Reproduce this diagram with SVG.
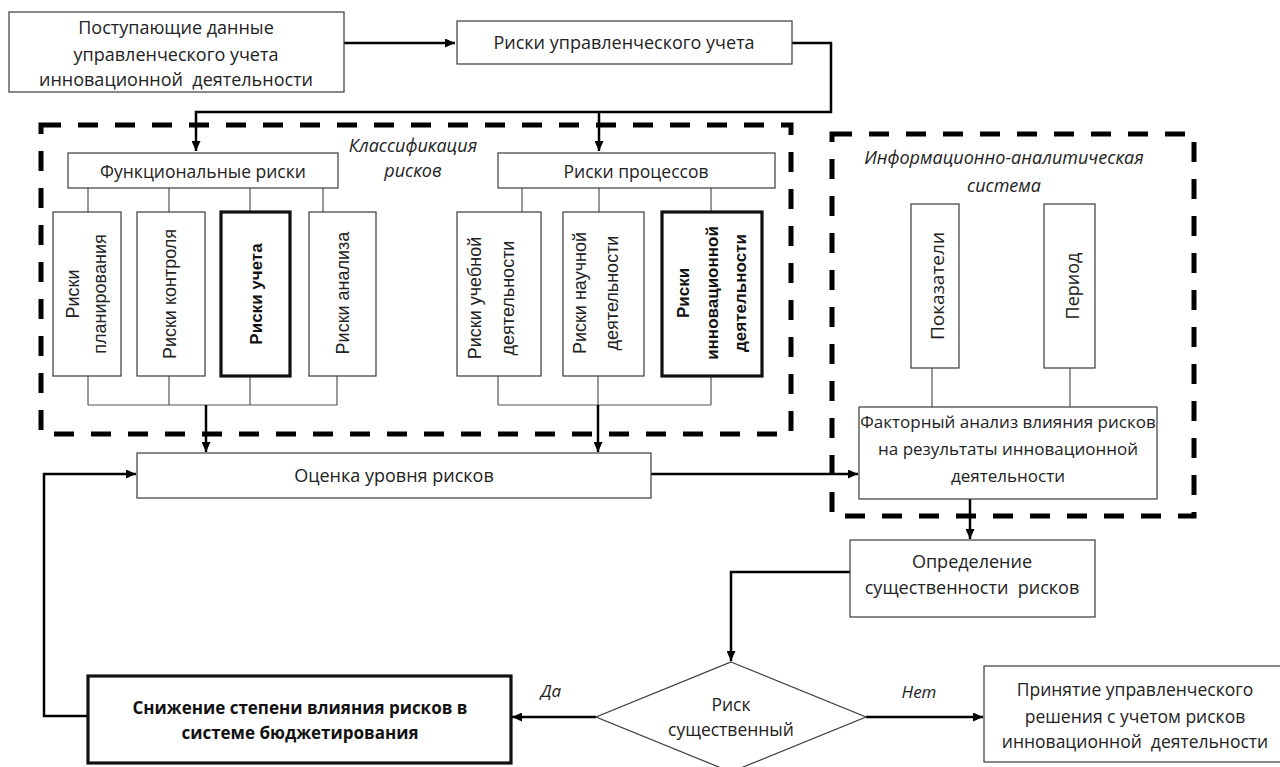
<svg xmlns="http://www.w3.org/2000/svg" width="1280" height="767" viewBox="0 0 1280 767">
<style>
.box{fill:#fff;stroke:#3a3a3a;stroke-width:1.2}
.bold{fill:#fff;stroke:#111;stroke-width:3.2}
.t{font-family:"Open Sans","Noto Sans",sans-serif;font-size:18px;fill:#222;text-anchor:middle;white-space:pre}
.tb{font-family:"Open Sans","Noto Sans",sans-serif;font-size:17px;fill:#111;font-weight:bold;text-anchor:middle}
.ti{font-family:"Open Sans","Noto Sans",sans-serif;font-size:18px;fill:#222;font-style:italic;text-anchor:middle}
.v{font-family:"Liberation Sans",Arial,sans-serif;font-size:18px;fill:#222;text-anchor:middle}
.vb{font-family:"Liberation Sans",Arial,sans-serif;font-size:17px;fill:#111;font-weight:bold;text-anchor:middle}
.dash{fill:none;stroke:#000;stroke-width:5;stroke-dasharray:20 17}
.main{fill:none;stroke:#000;stroke-width:2.5}
.thin{fill:none;stroke:#555;stroke-width:1.2}
</style>
<defs>
<marker id="ah" markerUnits="userSpaceOnUse" markerWidth="10" markerHeight="9" refX="10" refY="4.5" orient="auto">
<path d="M0,0 L10,4.5 L0,9 z" fill="#000"/>
</marker>
</defs>

<g id="group-classification">
<rect class="dash" x="41" y="125" width="750" height="309"/>
<text class="ti" x="413" y="152">Классификация</text>
<text class="ti" x="413" y="177">рисков</text>
</g>
<g id="group-info">
<rect class="dash" x="832" y="134" width="362" height="382"/>
<text class="ti" x="1004" y="164">Информационно-аналитическая</text>
<text class="ti" x="1004" y="192">система</text>
</g>

<g id="connectors">
<path class="main" d="M344,43 H455" marker-end="url(#ah)"/>
<path class="main" d="M792,43 H831 V112 H196 V151" marker-end="url(#ah)"/>
<path class="main" d="M599,112 V151" marker-end="url(#ah)"/>
<path class="thin" d="M88,188 V212 M169,188 V212 M250,188 V212 M323,188 V212"/>
<path class="thin" d="M88,376 V405 M169,376 V405 M250,376 V405 M337,376 V405 M88,405 H337"/>
<path class="thin" d="M522,188 V212 M599,188 V212 M711,188 V212"/>
<path class="thin" d="M498,376 V405 M598,376 V405 M711,376 V405 M498,405 H711"/>
<path class="main" d="M206,405 V452" marker-end="url(#ah)"/>
<path class="main" d="M598,405 V452" marker-end="url(#ah)"/>
<path class="thin" d="M932,368 V407 M1070,368 V407"/>
<path class="main" d="M651,474 H858" marker-end="url(#ah)"/>
<path class="main" d="M970,499 V539" marker-end="url(#ah)"/>
<path class="main" d="M850,572 H731 V661" marker-end="url(#ah)"/>
<path class="main" d="M596,717 H512" marker-end="url(#ah)"/>
<path class="main" d="M866,717 H983" marker-end="url(#ah)"/>
<path class="main" d="M88,716 H44 V474 H136" marker-end="url(#ah)"/>
<text class="ti" x="551" y="697" style="font-size:17px">Да</text>
<text class="ti" x="919" y="698" style="font-size:17px">Нет</text>
</g>

<g id="node-input">
<rect class="box" x="9" y="12" width="335" height="80"/>
<text class="t" x="176" y="34">Поступающие данные</text>
<text class="t" x="176" y="61">управленческого учета</text>
<text class="t" x="176" y="86" xml:space="preserve">инновационной  деятельности</text>
</g>
<g id="node-mgmt-risks">
<rect class="box" x="457" y="21" width="335" height="43"/>
<text class="t" x="624" y="49">Риски управленческого учета</text>
</g>
<g id="node-functional">
<rect class="box" x="68" y="153" width="270" height="35"/>
<text class="t" x="203" y="178" style="font-size:17.5px">Функциональные риски</text>
</g>
<g id="node-process">
<rect class="box" x="498" y="153" width="277" height="35"/>
<text class="t" x="636" y="178" style="font-size:17.5px">Риски процессов</text>
</g>

<g id="node-planning">
<rect class="box" x="53" y="212" width="68" height="164"/>
<text class="v" transform="translate(87,294) rotate(-90)"><tspan x="0" y="-8">Риски</tspan><tspan x="0" y="19">планирования</tspan></text>
</g>
<g id="node-control">
<rect class="box" x="137" y="212" width="68" height="164"/>
<text class="v" transform="translate(171,294) rotate(-90)" y="5">Риски контроля</text>
</g>
<g id="node-accounting">
<rect class="bold" x="221" y="212" width="69" height="164"/>
<text class="vb" transform="translate(255,294) rotate(-90)" y="7">Риски учета</text>
</g>
<g id="node-analysis">
<rect class="box" x="309" y="212" width="67" height="164"/>
<text class="v" transform="translate(342,293) rotate(-90)" y="7">Риски анализа</text>
</g>

<g id="node-edu">
<rect class="box" x="457" y="212" width="84" height="164"/>
<text class="v" transform="translate(499,298) rotate(-90)"><tspan x="0" y="-18">Риски учебной</tspan><tspan x="0" y="15">деятельности</tspan></text>
</g>
<g id="node-sci">
<rect class="box" x="563" y="212" width="81" height="164"/>
<text class="v" transform="translate(603,293) rotate(-90)"><tspan x="0" y="-17">Риски научной</tspan><tspan x="0" y="15">деятельности</tspan></text>
</g>
<g id="node-innov">
<rect class="bold" x="662" y="212" width="100" height="164"/>
<text class="vb" transform="translate(712,293) rotate(-90)"><tspan x="0" y="-23">Риски</tspan><tspan x="0" y="6">инновационной</tspan><tspan x="0" y="34">деятельности</tspan></text>
</g>

<g id="node-indicators">
<rect class="box" x="911" y="204" width="48" height="164"/>
<text class="t" transform="translate(935,286) rotate(-90)" y="9" style="font-size:19px">Показатели</text>
</g>
<g id="node-period">
<rect class="box" x="1044" y="204" width="51" height="164"/>
<text class="t" transform="translate(1069,286) rotate(-90)" y="10">Период</text>
</g>
<g id="node-factor">
<rect class="box" x="859" y="407" width="298" height="92"/>
<text class="t" x="1008" y="428" style="font-size:17px">Факторный анализ влияния рисков</text>
<text class="t" x="1008" y="455" style="font-size:17px">на результаты инновационной</text>
<text class="t" x="1008" y="482" style="font-size:17px">деятельности</text>
</g>

<g id="node-assessment">
<rect class="box" x="137" y="453" width="514" height="45"/>
<text class="t" x="394" y="482">Оценка уровня рисков</text>
</g>
<g id="node-materiality">
<rect class="box" x="850" y="540" width="245" height="77"/>
<text class="t" x="972" y="568">Определение</text>
<text class="t" x="972" y="594" xml:space="preserve">существенности  рисков</text>
</g>
<g id="node-decision">
<polygon class="box" points="731,662 866,717 731,772 596,717"/>
<text class="t" x="731" y="711" style="font-size:17.5px">Риск</text>
<text class="t" x="731" y="736" style="font-size:17.5px">существенный</text>
</g>
<g id="node-reduce">
<rect class="bold" x="88" y="676" width="423" height="87"/>
<text class="tb" x="300" y="714">Снижение степени влияния рисков в</text>
<text class="tb" x="300" y="739">системе бюджетирования</text>
</g>
<g id="node-accept">
<rect class="box" x="984" y="666" width="302" height="96"/>
<text class="t" x="1135" y="696" style="font-size:17.5px">Принятие управленческого</text>
<text class="t" x="1135" y="723" style="font-size:17.5px">решения с учетом рисков</text>
<text class="t" x="1135" y="748" style="font-size:17.5px" xml:space="preserve">инновационной  деятельности</text>
</g>
</svg>
